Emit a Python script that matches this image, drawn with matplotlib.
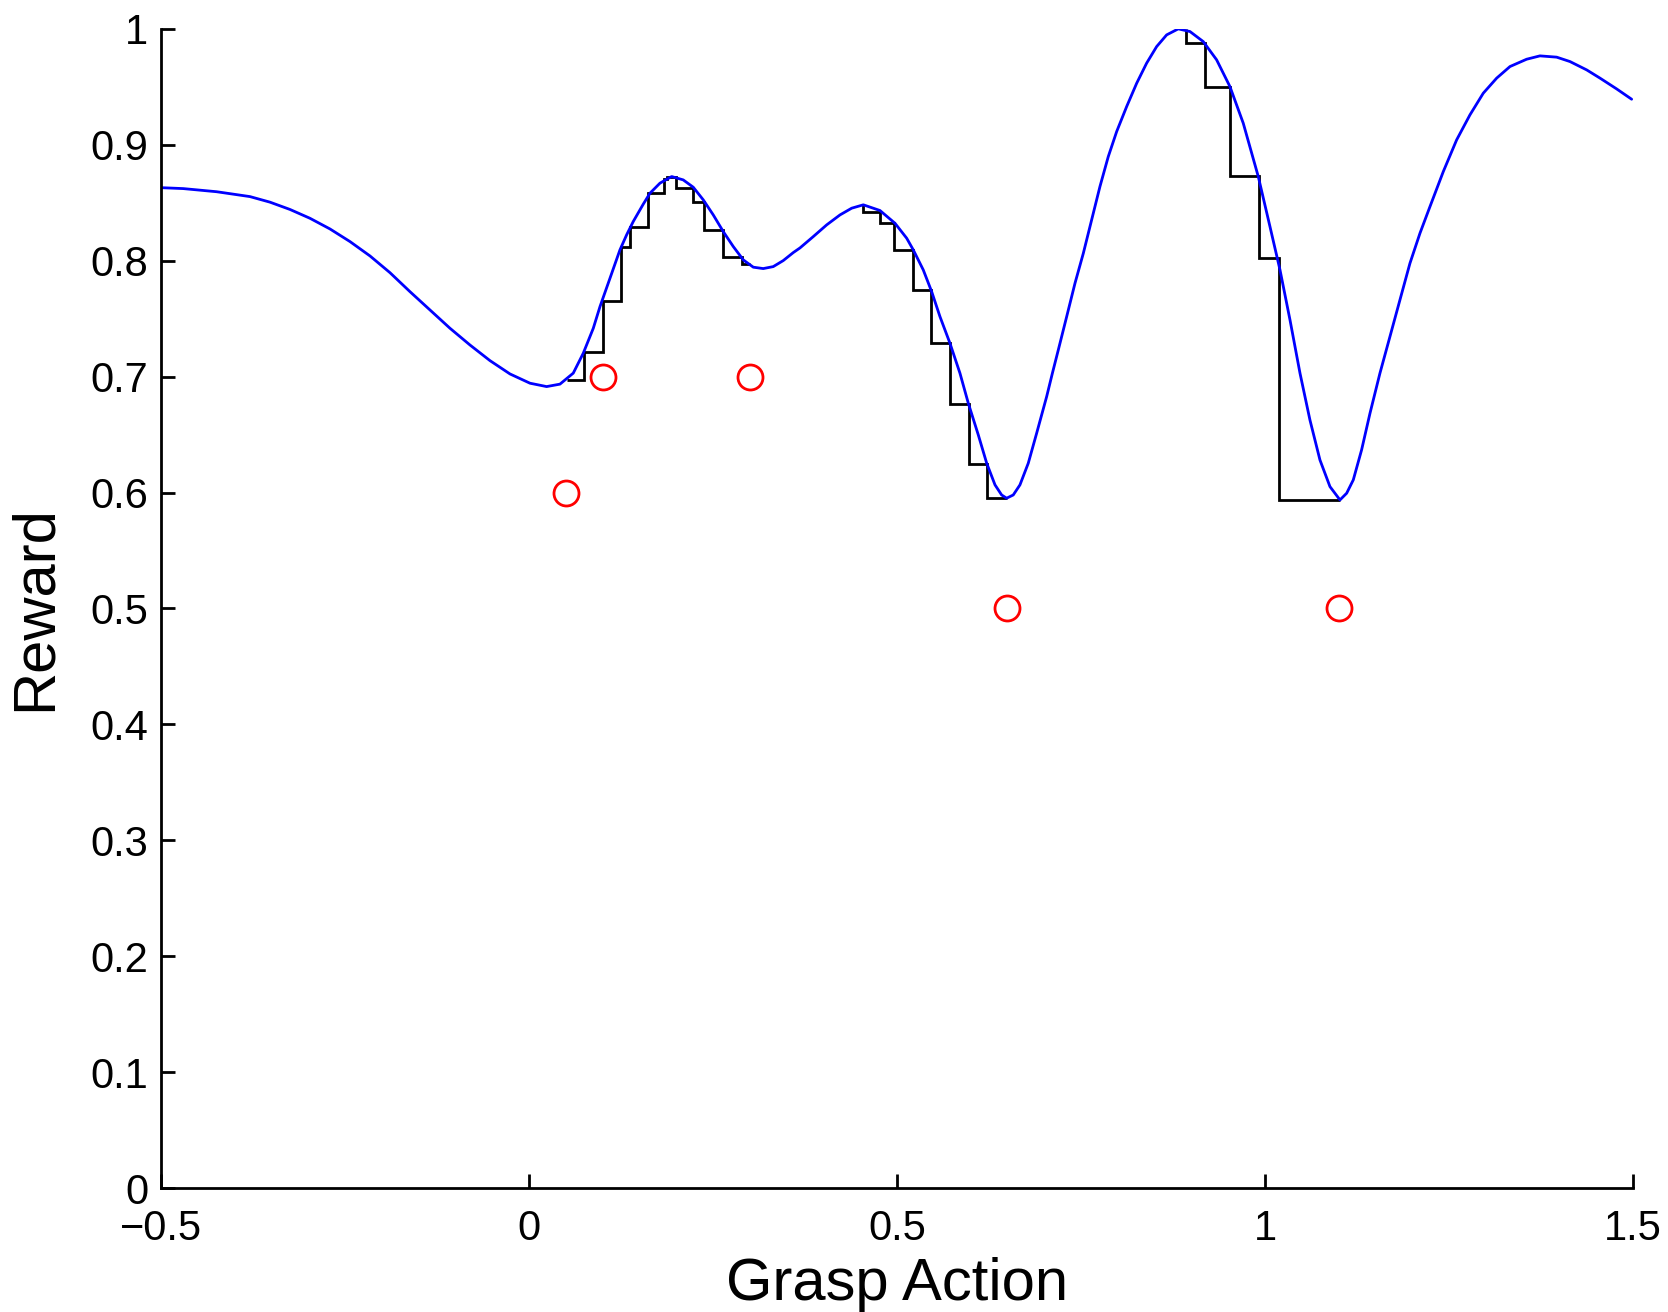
import matplotlib
matplotlib.use("Agg")
import matplotlib.pyplot as plt

plt.rcParams['font.family'] = ['Liberation Sans', 'DejaVu Sans']

# Blue reward curve
curve_x = [-0.5000, -0.4697, -0.4244, -0.3791, -0.3519, -0.3247, -0.2976, -0.2704,
           -0.2432, -0.2160, -0.1889, -0.1617, -0.1345, -0.1073, -0.0802, -0.0530,
           -0.0258, 0.0014, 0.0240, 0.0421, 0.0602, 0.0738, 0.0874, 0.0965, 0.1101,
           0.1236, 0.1327, 0.1417, 0.1553, 0.1644, 0.1780, 0.1939, 0.2096, 0.2232,
           0.2368, 0.2504, 0.2640, 0.2776, 0.2912, 0.3048, 0.3183, 0.3319, 0.3455,
           0.3591, 0.3682, 0.3863, 0.4045, 0.4226, 0.4385, 0.4543, 0.4769, 0.4973,
           0.5132, 0.5222, 0.5357, 0.5471, 0.5584, 0.5720, 0.5856, 0.5969, 0.6105,
           0.6219, 0.6332, 0.6422, 0.6490, 0.6580, 0.6671, 0.6784, 0.6898, 0.7034,
           0.7112, 0.7192, 0.7306, 0.7419, 0.7532, 0.7645, 0.7758, 0.7871, 0.7985,
           0.8121, 0.8257, 0.8392, 0.8528, 0.8664, 0.8822, 0.8981, 0.9162, 0.9343,
           0.9524, 0.9705, 0.9909, 1.0068, 1.0204, 1.0340, 1.0476, 1.0611, 1.0747,
           1.0883, 1.1019, 1.1110, 1.1200, 1.1313, 1.1427, 1.1562, 1.1698, 1.1834,
           1.1970, 1.2106, 1.2242, 1.2423, 1.2604, 1.2785, 1.2966, 1.3148, 1.3329,
           1.3555, 1.3736, 1.3963, 1.4144, 1.4371, 1.4552, 1.4778, 1.4982]
curve_y = [0.8630, 0.8622, 0.8595, 0.8553, 0.8505, 0.8442, 0.8366, 0.8274,
           0.8165, 0.8041, 0.7897, 0.7733, 0.7575, 0.7417, 0.7273, 0.7138,
           0.7023, 0.6943, 0.6914, 0.6935, 0.7030, 0.7202, 0.7417, 0.7604, 0.7849,
           0.8093, 0.8223, 0.8338, 0.8488, 0.8582, 0.8669, 0.8726, 0.8697, 0.8634,
           0.8525, 0.8395, 0.8251, 0.8122, 0.8007, 0.7944, 0.7932, 0.7949, 0.8001,
           0.8070, 0.8110, 0.8208, 0.8309, 0.8395, 0.8453, 0.8482, 0.8433, 0.8323,
           0.8194, 0.8093, 0.7921, 0.7734, 0.7518, 0.7288, 0.7029, 0.6771, 0.6497,
           0.6253, 0.6066, 0.5979, 0.5951, 0.5979, 0.6066, 0.6253, 0.6512, 0.6828,
           0.7030, 0.7230, 0.7518, 0.7806, 0.8064, 0.8352, 0.8640, 0.8898, 0.9114,
           0.9330, 0.9531, 0.9704, 0.9847, 0.9948, 1.0000, 0.9977, 0.9890, 0.9733,
           0.9502, 0.9186, 0.8726, 0.8294, 0.7921, 0.7489, 0.7029, 0.6626, 0.6281,
           0.6051, 0.5936, 0.5994, 0.6109, 0.6368, 0.6684, 0.7029, 0.7345, 0.7662,
           0.7978, 0.8237, 0.8467, 0.8769, 0.9042, 0.9258, 0.9445, 0.9575, 0.9675,
           0.9738, 0.9767, 0.9756, 0.9718, 0.9646, 0.9575, 0.9482, 0.9393]

# Black staircases (edges and levels)
stair1_edges = [0.0512, 0.0747, 0.1001, 0.1250, 0.1372, 0.1621, 0.1834, 0.1880,
                0.1997, 0.2232, 0.2378, 0.2632, 0.2890, 0.3003]
stair1_vals = [0.697, 0.7216, 0.7656, 0.8122, 0.8294, 0.8582, 0.8703, 0.8726,
               0.8631, 0.8510, 0.8266, 0.8035, 0.7972]

stair2_edges = [0.4543, 0.4543, 0.4769, 0.4964, 0.5213, 0.5462, 0.5720, 0.5978,
                0.6227, 0.6490]
stair2_vals = [0.8482, 0.8424, 0.8323, 0.8093, 0.7748, 0.7288, 0.6764, 0.6247,
               0.5951]

stair3_edges = [0.8927, 0.8927, 0.9189, 0.9524, 0.9914, 1.0186, 1.1019]
stair3_vals = [1.000, 0.9882, 0.9497, 0.8732, 0.8021, 0.5936]

# Red observed samples
obs_x = [0.05, 0.10, 0.30, 0.65, 1.10]
obs_y = [0.60, 0.70, 0.70, 0.50, 0.50]

xticks = [-0.5, 0, 0.5, 1, 1.5]
xtick_labels = ['\u22120.5', '0', '0.5', '1', '1.5']
yticks = [0, 0.1, 0.2, 0.3, 0.4, 0.5, 0.6, 0.7, 0.8, 0.9, 1]
ytick_labels = ['0', '0.1', '0.2', '0.3', '0.4', '0.5', '0.6', '0.7', '0.8', '0.9', '1']

fig = plt.figure(figsize=(16.68, 13.12), dpi=100)
ax = fig.add_axes([0.0965, 0.0945, 0.8825, 0.8835])

for e, v in [(stair1_edges, stair1_vals), (stair2_edges, stair2_vals),
             (stair3_edges, stair3_vals)]:
    ax.stairs(v, e, baseline=None, color='black', linewidth=2.0)

ax.plot(curve_x, curve_y, color='#0000ff', linewidth=2.0,
        solid_joinstyle='round', solid_capstyle='round')
ax.plot(obs_x, obs_y, linestyle='none', marker='o', markersize=18,
        markerfacecolor='none', markeredgecolor='#ff0000', markeredgewidth=2.0)

ax.set_xlim(-0.5, 1.5)
ax.set_ylim(0, 1)
ax.set_xticks(xticks)
ax.set_xticklabels(xtick_labels)
ax.set_yticks(yticks)
ax.set_yticklabels(ytick_labels)

for s in ['top', 'right']:
    ax.spines[s].set_visible(False)
for s in ['left', 'bottom']:
    ax.spines[s].set_linewidth(2.0)

ax.tick_params(axis='both', direction='in', length=10, width=2.0, labelsize=30)
ax.tick_params(axis='x', pad=15)
ax.tick_params(axis='y', pad=9)

ax.set_xlabel('Grasp Action', fontsize=43, labelpad=6)
ax.set_ylabel('Reward', fontsize=43, labelpad=20)

fig.savefig('out.png', dpi=100)
